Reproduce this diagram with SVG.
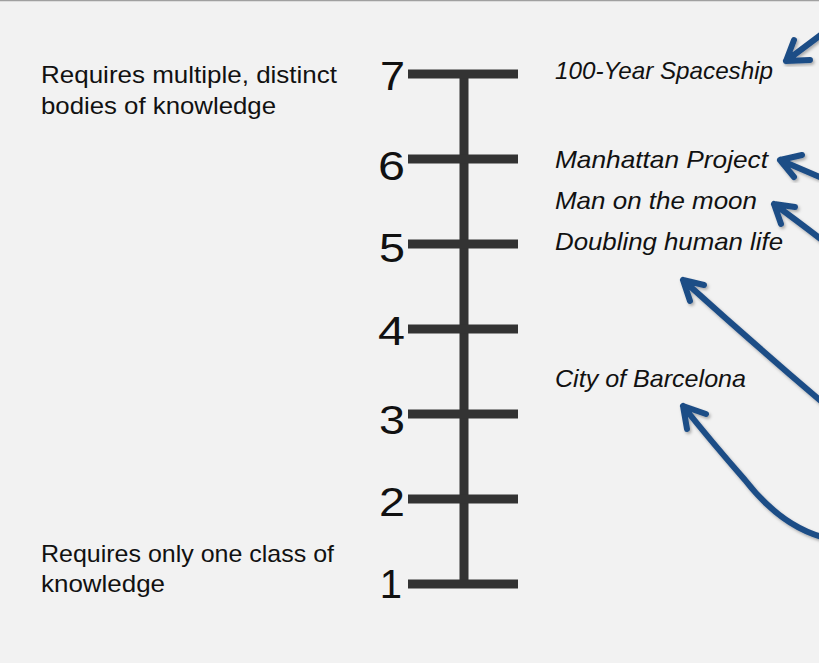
<svg xmlns="http://www.w3.org/2000/svg" width="819" height="663" viewBox="0 0 819 663">
<defs>
<style>
.lbl{font-family:"Liberation Sans",Arial,sans-serif;font-size:24px;fill:#111}
.it{font-family:"Liberation Sans",Arial,sans-serif;font-size:24px;font-style:italic;fill:#111}
.num{font-family:"Liberation Sans",Arial,sans-serif;font-size:40px;fill:#111;text-anchor:end}
.tick{stroke:#333;stroke-width:9;fill:none}
.arr{stroke:#1f4d86;stroke-width:6;fill:none;stroke-linecap:round;stroke-linejoin:round;filter:url(#sh)}
</style>
<filter id="sh" x="-20%" y="-20%" width="140%" height="140%">
<feDropShadow dx="1.5" dy="2" stdDeviation="1.5" flood-color="#000" flood-opacity="0.3"/>
</filter>
</defs>
<rect width="819" height="663" fill="#f2f2f2"/>
<line x1="0" y1="0.5" x2="819" y2="0.5" stroke="#a0a0a0" stroke-width="1.5"/>

<g id="scale">
<line class="tick" x1="464" y1="74" x2="464" y2="584"/>
<line class="tick" x1="408" y1="74" x2="518" y2="74"/>
<line class="tick" x1="408" y1="159" x2="518" y2="159"/>
<line class="tick" x1="408" y1="244" x2="518" y2="244"/>
<line class="tick" x1="408" y1="329" x2="518" y2="329"/>
<line class="tick" x1="408" y1="414" x2="518" y2="414"/>
<line class="tick" x1="408" y1="499" x2="518" y2="499"/>
<line class="tick" x1="408" y1="584" x2="518" y2="584"/>
<text class="num" x="405" y="90" textLength="25" lengthAdjust="spacingAndGlyphs">7</text>
<text class="num" x="405" y="180" textLength="27" lengthAdjust="spacingAndGlyphs">6</text>
<text class="num" x="405" y="262" textLength="26" lengthAdjust="spacingAndGlyphs">5</text>
<text class="num" x="405" y="345" textLength="27" lengthAdjust="spacingAndGlyphs">4</text>
<text class="num" x="405" y="434" textLength="26" lengthAdjust="spacingAndGlyphs">3</text>
<text class="num" x="405" y="516" textLength="26" lengthAdjust="spacingAndGlyphs">2</text>
<text class="num" x="402" y="598">1</text>
</g>

<g id="left-top"><text class="lbl" x="41" y="83" textLength="296" lengthAdjust="spacingAndGlyphs">Requires multiple, distinct</text>
<text class="lbl" x="41" y="114" textLength="235" lengthAdjust="spacingAndGlyphs">bodies of knowledge</text></g>
<g id="left-bottom"><text class="lbl" x="41" y="562" textLength="293" lengthAdjust="spacingAndGlyphs">Requires only one class of</text>
<text class="lbl" x="41" y="592" textLength="124" lengthAdjust="spacingAndGlyphs">knowledge</text></g>

<g id="n-spaceship"><text class="it" x="555" y="79" textLength="218" lengthAdjust="spacingAndGlyphs">100-Year Spaceship</text></g>
<g id="n-manhattan"><text class="it" x="555" y="168" textLength="213" lengthAdjust="spacingAndGlyphs">Manhattan Project</text></g>
<g id="n-moon"><text class="it" x="555" y="209" textLength="202" lengthAdjust="spacingAndGlyphs">Man on the moon</text></g>
<g id="n-doubling"><text class="it" x="555" y="250" textLength="228" lengthAdjust="spacingAndGlyphs">Doubling human life</text></g>
<g id="n-barcelona"><text class="it" x="555" y="387" textLength="191" lengthAdjust="spacingAndGlyphs">City of Barcelona</text></g>

<g id="connectors">
<path class="arr" d="M822 34 L786 61 M786 61 L810 60 M786 61 L794 40"/>
<path class="arr" d="M822 178 L780 160 M780 160 L794 177 M780 160 L802 155"/>
<path class="arr" d="M822 240 Q796 220 774 204 M774 204 L781 224 M774 204 L795 207"/>
<path class="arr" d="M822 402 Q755 345 683 280 M683 280 L690 301 M683 280 L704 285"/>
<path class="arr" d="M822 537 Q780 525 745 480 Q710 440 683 406 M683 406 L687 429 M683 406 L706 414"/>
</g>
</svg>
